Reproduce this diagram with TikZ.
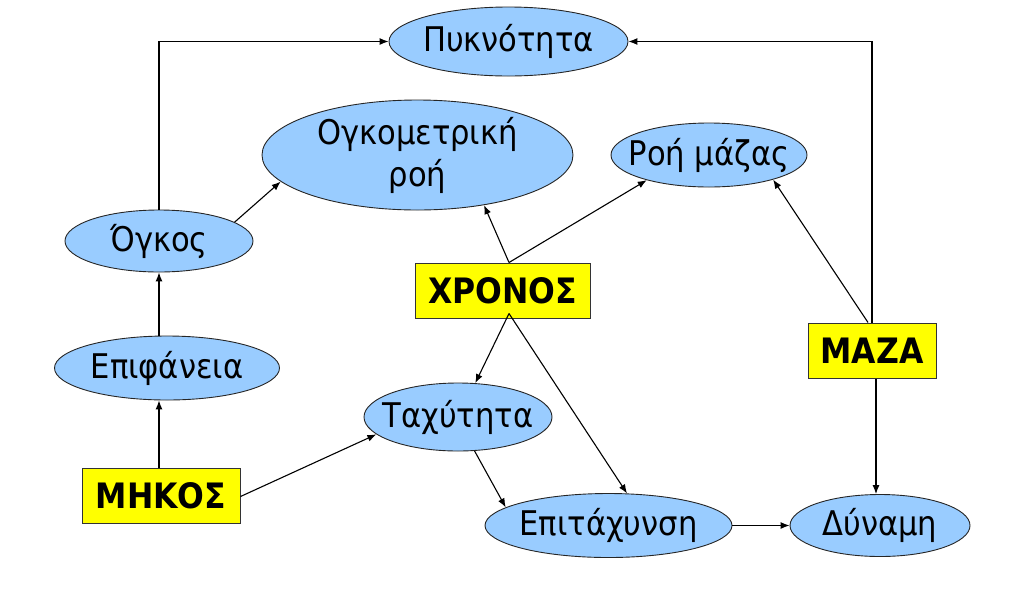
\documentclass[tikz,border=0pt]{standalone}
\usepackage{fontspec}
\setmainfont{DejaVu Sans Condensed}
\usetikzlibrary{shapes.geometric,arrows.meta,calc}
\definecolor{ellfill}{HTML}{99CCFF}
\definecolor{boxfill}{HTML}{FFFF00}
\begin{document}
\begin{tikzpicture}[x=1pt,y=-1pt,
  ell/.style={ellipse,draw=black!85,line width=0.9pt,fill=ellfill,inner sep=-20pt,
    font=\fontsize{34}{42}\selectfont,align=center},
  qbox/.style={rectangle,draw=black!80,line width=1pt,fill=boxfill,inner sep=0pt,
    font=\fontsize{35}{40}\selectfont\bfseries},
  arr/.style={line width=1.1pt,-{Latex[length=9pt,width=7pt]}},
  ln/.style={line width=1.1pt}]
\useasboundingbox (0,0) rectangle (1024,614);
\node[ell,minimum width=239pt,minimum height=69pt] (pyk) at (508.5,41.5) {Πυκνότητα};
\node[ell,minimum width=311pt,minimum height=110pt] (ogk) at (417.5,155) {Ογκομετρική\\ροή};
\node[ell,minimum width=196pt,minimum height=64pt] (roh) at (709,155) {Ροή μάζας};
\node[ell,minimum width=188pt,minimum height=62pt] (ogkos) at (159,241) {Όγκος};
\node[ell,minimum width=225pt,minimum height=64pt] (epif) at (167,368) {Επιφάνεια};
\node[ell,minimum width=188pt,minimum height=68pt] (tax) at (458,417) {Ταχύτητα};
\node[ell,minimum width=247pt,minimum height=64pt] (epit) at (608.5,525.5) {Επιτάχυνση};
\node[ell,minimum width=180pt,minimum height=62pt] (dyn) at (880,525.5) {Δύναμη};
\node[qbox,minimum width=175pt,minimum height=55pt] (xr) at (502.5,290.5) {ΧΡΟΝΟΣ};
\node[qbox,minimum width=128pt,minimum height=55pt] (maza) at (872,350.5) {ΜΑΖΑ};
\node[qbox,minimum width=158pt,minimum height=55pt] (mhk) at (161,495.5) {ΜΗΚΟΣ};
% connectors
\draw[arr] (ogkos.north) |- (pyk.west);
\draw[arr] (maza.north) |- (pyk.east);
\draw[arr] (ogkos.14) -- (ogk.191);
\draw[arr] (epif.north -| ogkos.south) -- (ogkos.south);
\draw[arr] (mhk.north -| ogkos.south) -- (epif.south -| ogkos.south);
\draw[arr] ([yshift=-1pt]mhk.east) -- (tax.192);
\draw[arr] ([xshift=6.5pt]xr.north) -- (ogk.323);
\draw[arr] ([xshift=6.5pt]xr.north) -- (roh.202);
\draw[arr] ([xshift=-4pt]maza.north) -- (roh.339);
\draw[arr] ([xshift=6.5pt,yshift=5pt]xr.south) -- (tax.63);
\draw[arr] ([xshift=6.5pt,yshift=5pt]xr.south) -- (epit.60);
\draw[arr] (tax.296) -- (epit.170);
\draw[arr] (epit.east) -- (dyn.west);
\draw[arr] ([xshift=4pt]maza.south) -- ([xshift=4pt]maza.south |- dyn.north);
\end{tikzpicture}
\end{document}
